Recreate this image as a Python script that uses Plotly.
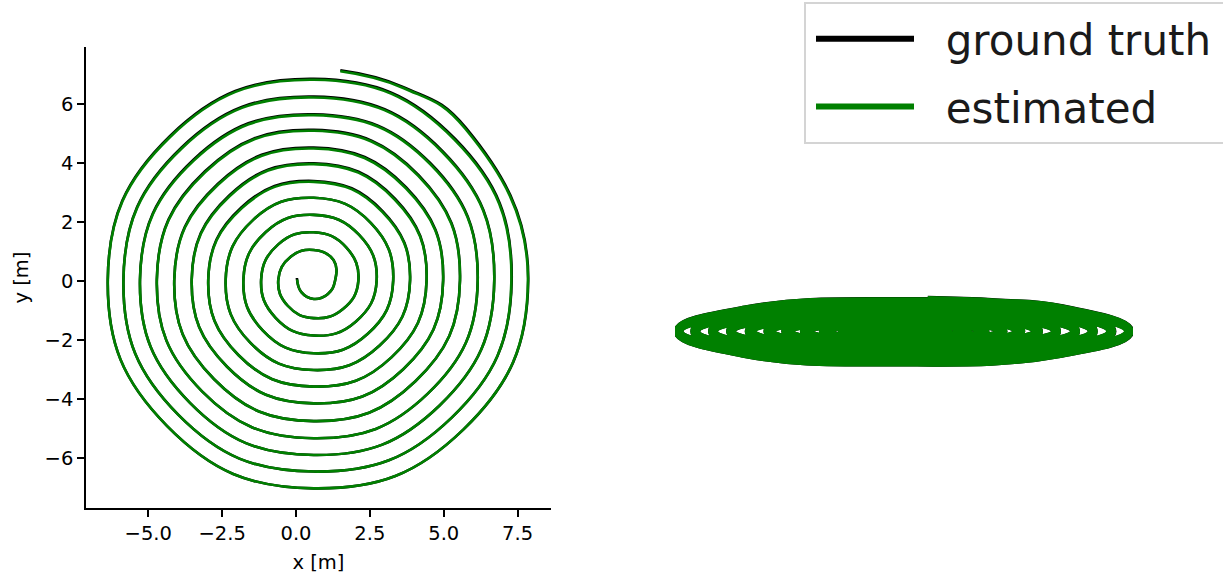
import plotly.graph_objects as go

# Trajectory points (metres), read along the path from the centre outwards.
gt_x = [0.03, 0.18, 0.60, 1.08, 1.32, 1.27, 0.60, -0.18, -0.60, -0.28,
        0.60, 1.59, 2.11, 1.70, 0.60, -0.60, -1.18, -0.69, 0.60, 2.02,
        2.73, 2.13, 0.60, -1.02, -1.78, -1.12, 0.60, 2.43, 3.29, 2.53,
        0.60, -1.44, -2.38, -1.54, 0.60, 2.83, 3.86, 2.93, 0.60, -1.85,
        -2.97, -1.95, 0.60, 3.23, 4.42, 3.35, 0.60, -2.26, -3.53, -2.34,
        0.60, 3.63, 4.98, 3.73, 0.60, -2.65, -4.12, -2.77, 0.60, 4.04,
        5.55, 4.15, 0.60, -3.08, -4.71, -3.18, 0.60, 4.46, 6.15, 4.55,
        0.60, -3.47, -5.28, -3.58, 0.60, 4.86, 6.71, 4.96, 0.60, -3.88,
        -5.84, -3.98, 0.60, 5.27, 7.30, 5.38, 0.60, -4.27, -6.37, -4.36,
        0.60, 5.67, 7.86, 5.75, 3.64, 1.50]
gt_y = [0.10, -0.38, -0.61, -0.44, 0.00, 0.71, 1.05, 0.82, 0.04, -0.84,
        -1.26, -0.95, 0.00, 1.14, 1.65, 1.24, 0.04, -1.25, -1.85, -1.38,
        0.02, 1.57, 2.24, 1.66, 0.04, -1.68, -2.45, -1.79, 0.02, 1.97,
        2.82, 2.08, 0.04, -2.10, -3.02, -2.19, 0.02, 2.37, 3.39, 2.49,
        0.04, -2.51, -3.58, -2.59, 0.02, 2.79, 3.99, 2.90, 0.04, -2.90,
        -4.15, -2.99, 0.02, 3.17, 4.52, 3.29, 0.04, -3.33, -4.75, -3.40,
        0.02, 3.59, 5.12, 3.72, 0.04, -3.74, -5.33, -3.82, 0.02, 3.99,
        5.65, 4.11, 0.04, -4.14, -5.90, -4.22, 0.02, 4.40, 6.25, 4.52,
        0.04, -4.54, -6.46, -4.63, 0.02, 4.82, 6.85, 4.91, 0.04, -4.92,
        -7.03, -5.03, 0.02, 5.19, 6.57, 7.14]

est_x = [0.04, 0.18, 0.60, 1.08, 1.32, 1.27, 0.60, -0.18, -0.60, -0.28,
         0.60, 1.59, 2.11, 1.70, 0.60, -0.60, -1.18, -0.69, 0.60, 2.02,
         2.73, 2.13, 0.60, -1.02, -1.78, -1.12, 0.60, 2.43, 3.29, 2.53,
         0.60, -1.44, -2.38, -1.54, 0.60, 2.83, 3.86, 2.92, 0.60, -1.84,
         -2.97, -1.95, 0.60, 3.23, 4.42, 3.34, 0.60, -2.25, -3.53, -2.34,
         0.60, 3.63, 4.98, 3.72, 0.60, -2.64, -4.12, -2.77, 0.60, 4.04,
         5.55, 4.14, 0.60, -3.07, -4.71, -3.18, 0.60, 4.46, 6.15, 4.54,
         0.60, -3.46, -5.28, -3.58, 0.60, 4.86, 6.71, 4.95, 0.60, -3.87,
         -5.84, -3.98, 0.60, 5.27, 7.29, 5.36, 0.60, -4.26, -6.37, -4.36,
         0.60, 5.67, 7.85, 5.73, 3.63, 1.50]
est_y = [0.05, -0.38, -0.61, -0.44, 0.00, 0.71, 1.05, 0.82, 0.04, -0.84,
         -1.26, -0.95, 0.00, 1.14, 1.65, 1.24, 0.04, -1.25, -1.85, -1.38,
         0.02, 1.57, 2.24, 1.66, 0.04, -1.68, -2.45, -1.79, 0.02, 1.97,
         2.82, 2.08, 0.04, -2.10, -3.02, -2.19, 0.02, 2.34, 3.36, 2.46,
         0.04, -2.51, -3.58, -2.59, 0.02, 2.76, 3.96, 2.87, 0.04, -2.90,
         -4.15, -2.99, 0.02, 3.14, 4.49, 3.26, 0.04, -3.33, -4.75, -3.40,
         0.02, 3.56, 5.09, 3.69, 0.04, -3.74, -5.33, -3.82, 0.02, 3.96,
         5.62, 4.08, 0.04, -4.14, -5.90, -4.22, 0.02, 4.37, 6.22, 4.49,
         0.04, -4.54, -6.46, -4.63, 0.02, 4.79, 6.82, 4.88, 0.04, -4.92,
         -7.03, -5.03, 0.02, 5.16, 6.54, 7.11]

x_ticks = [-5.0, -2.5, 0.0, 2.5, 5.0, 7.5]
x_tick_text = ["\u22125.0", "\u22122.5", "0.0", "2.5", "5.0", "7.5"]
y_ticks = [-6, -4, -2, 0, 2, 4, 6]
y_tick_text = ["\u22126", "\u22124", "\u22122", "0", "2", "4", "6"]

series_names = ["ground truth", "estimated"]
series_colors = ["#000000", "#008000"]

W, H = 1223, 581
FONT = "DejaVu Sans"
NBSP = "\u00a0"


def px_x(a, b):
    return [a / W, b / W]


def px_y(top, bottom):
    return [1 - bottom / H, 1 - top / H]


fig = go.Figure()

paths = [(gt_x, gt_y), (est_x, est_y)]

# Top-down trajectory view
for (xs, ys), name, col in zip(paths, series_names, series_colors):
    fig.add_trace(go.Scatter(
        x=xs, y=ys, mode="lines", name=name, showlegend=False,
        line=dict(color=col, width=2.6, shape="spline", smoothing=1.3),
        xaxis="x", yaxis="y", hoverinfo="skip"))

# Flattened view of the same trajectory
for (xs, ys), name, col in zip(paths, series_names, series_colors):
    fig.add_trace(go.Scatter(
        x=xs, y=ys, mode="lines", name=name, showlegend=False,
        line=dict(color=col, width=10, shape="spline", smoothing=1.3),
        xaxis="x2", yaxis="y2", hoverinfo="skip"))

# Legend entries (padding keeps a gap between sample line and label)
for name, col in zip(series_names, series_colors):
    fig.add_trace(go.Scatter(
        x=[None], y=[None], mode="lines", name=NBSP * 2 + name,
        legendgroup=name, line=dict(color=col, width=6),
        xaxis="x2", yaxis="y2"))

axis_common = dict(
    showline=True, linecolor="#000000", linewidth=1.6, mirror=False,
    ticks="outside", ticklen=7, tickwidth=1.6, tickcolor="#000000",
    showgrid=False, zeroline=False,
    tickfont=dict(family=FONT, size=19.5, color="#000000"),
)

# Legend frame, running past the right edge of the page
legend_frame = dict(
    type="rect", xref="paper", yref="paper", layer="above",
    x0=805 / W, x1=1.02, y0=1 - 143 / H, y1=1 - 3 / H,
    line=dict(color="#d4d4d4", width=2), fillcolor="rgba(255,255,255,0.9)",
)

fig.update_layout(
    width=W, height=H,
    margin=dict(l=0, r=0, t=0, b=0, autoexpand=False),
    paper_bgcolor="white", plot_bgcolor="white",
    shapes=[legend_frame],
    xaxis=dict(domain=px_x(86, 551), range=[-7.107, 8.63],
               tickvals=x_ticks, ticktext=x_tick_text, anchor="y",
               title=dict(text="x [m]", font=dict(family=FONT, size=19.5, color="#000000"),
                          standoff=11),
               **axis_common),
    yaxis=dict(domain=px_y(47, 508), range=[-7.695, 7.93],
               tickvals=y_ticks, ticktext=y_tick_text, anchor="x",
               title=dict(text="y [m]", font=dict(family=FONT, size=19.5, color="#000000"),
                          standoff=11),
               **axis_common),
    xaxis2=dict(domain=px_x(675, 1133), range=[-6.48, 7.98], visible=False,
                anchor="y2"),
    yaxis2=dict(domain=px_y(295, 367), range=[-8.3, 8.5], visible=False,
                anchor="x2"),
    legend=dict(x=811 / W, y=1 - 5 / H, xanchor="left", yanchor="top",
                bgcolor="rgba(0,0,0,0)", borderwidth=0,
                font=dict(family=FONT, size=42, color="#1a1a1a"),
                itemwidth=98, tracegroupgap=10, traceorder="grouped"),
    showlegend=True,
)

fig.write_html("out.html")
